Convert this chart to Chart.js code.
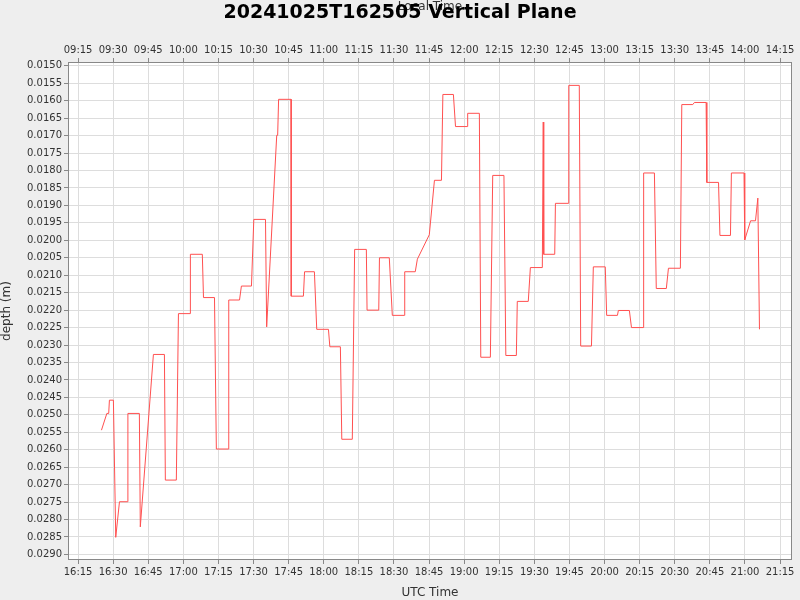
<!DOCTYPE html>
<html><head><meta charset="utf-8">
<script src="https://cdn.jsdelivr.net/npm/chart.js@4"></script>
<style>html,body{margin:0;padding:0;background:#eeeeee}</style>
</head><body>
<canvas id="c" width="800" height="600"></canvas>
<script>
// UTC minutes since midnight
const times = [985,987.3,988.1,988.4,990.1,991.1,992.7,996.2,996.3,1001.2,1001.6,1007.2,1011.9,1012.3,1017,1017.9,1022.9,1023,1028.1,1028.6,1033.3,1034.1,1039.3,1039.4,1044,1044.8,1049.1,1050.1,1055.1,1055.6,1059.9,1060.3,1060.7,1066,1066.1,1071.3,1071.8,1076,1077,1082,1082.6,1087.1,1087.7,1092.2,1093.2,1098.2,1098.5,1103.5,1103.8,1108,1109.3,1114.4,1114.6,1119.1,1120,1125.1,1127.3,1130.3,1130.9,1135.4,1136.3,1141.4,1141.5,1146.5,1147.1,1151.2,1152.2,1157,1157.8,1162.3,1162.7,1167.4,1168.3,1173.4,1173.8,1174.0,1178.7,1179,1184.5,1184.7,1189.2,1189.8,1194.4,1195.2,1200.3,1200.9,1205.5,1205.9,1210.6,1211.5,1216.6,1216.7,1221.3,1222.1,1226.4,1227.3,1232.4,1233,1237.7,1238.4,1243.4,1243.7,1248.7,1249.3,1253.8,1254.2,1259.6,1259.9,1262.4,1264.5,1265.5,1266.2];
const depths = [0.02544,0.02496,0.02496,0.02458,0.02458,0.02851,0.02749,0.02749,0.02496,0.02496,0.02821,0.02327,0.02327,0.02687,0.02687,0.0221,0.0221,0.0204,0.0204,0.02164,0.02164,0.02598,0.02598,0.02171,0.02171,0.02131,0.02131,0.0194,0.0194,0.02248,0.01699,0.01699,0.01596,0.01596,0.0216,0.0216,0.0209,0.0209,0.02255,0.02255,0.02305,0.02305,0.0257,0.0257,0.02026,0.02026,0.0220,0.0220,0.0205,0.0205,0.02215,0.02215,0.0209,0.0209,0.02054,0.01984,0.01828,0.01828,0.01582,0.01582,0.01674,0.01674,0.01636,0.01636,0.02335,0.02335,0.01814,0.01814,0.0233,0.0233,0.02175,0.02175,0.02078,0.02078,0.01661,0.0204,0.0204,0.01894,0.01894,0.01556,0.01556,0.02303,0.02303,0.02076,0.02076,0.02215,0.02215,0.02201,0.02201,0.0225,0.0225,0.01807,0.01807,0.02138,0.02138,0.0208,0.0208,0.01611,0.01611,0.01605,0.01605,0.01834,0.01834,0.01986,0.01986,0.01807,0.01807,0.01999,0.01944,0.01944,0.01879,0.02255];
const localOffsetMin = -420;
const yTickStep = 0.0005;
const xTickStep = 15;

function hhmm(m){m=((Math.round(m)%1440)+1440)%1440;const h=Math.floor(m/60),mm=m%60;return String(h).padStart(2,'0')+':'+String(mm).padStart(2,'0');}
function xTicks(scale){const t=[];for(let v=Math.ceil(scale.min/xTickStep)*xTickStep;v<=scale.max;v+=xTickStep)t.push({value:v});scale.ticks=t;}
function yTicks(scale){const t=[];for(let i=Math.ceil(scale.min/yTickStep-1e-6);i*yTickStep<=scale.max+1e-9;i++)t.push({value:+(i*yTickStep).toFixed(4)});scale.ticks=t;}

const bg={id:'bg',beforeDraw(c){const x=c.ctx,a=c.chartArea;x.save();x.fillStyle='#eeeeee';x.fillRect(0,0,c.width,c.height);x.fillStyle='#fff';x.fillRect(a.left,a.top,a.right-a.left,a.bottom-a.top);x.restore();},
 afterDraw(c){const x=c.ctx,a=c.chartArea;x.save();x.strokeStyle='#888';x.lineWidth=1;x.strokeRect(a.left+0.5,a.top+0.5,a.right-a.left-1,a.bottom-a.top-1);
 x.fillStyle='#000';x.font='bold 19px "DejaVu Sans"';x.textAlign='center';x.textBaseline='middle';x.fillText('20241025T162505 Vertical Plane',400,13);x.restore();}};
const font={family:'"DejaVu Sans"',size:10};
new Chart(document.getElementById('c'),{type:'line',
 data:{datasets:[{data:times.map((t,i)=>({x:t,y:depths[i]})),borderColor:'#ff5050',borderWidth:1,pointRadius:0,tension:0}]},
 options:{animation:false,responsive:false,layout:{padding:{left:0,right:8,top:0,bottom:0}},
  plugins:{legend:{display:false},tooltip:{enabled:false}},
  scales:{
   x:{type:'linear',position:'bottom',min:970.7,max:1280.1,afterBuildTicks:xTicks,
     afterFit(s){s.height=40;},
     ticks:{callback:v=>hhmm(v),font,color:'#333',maxRotation:0,autoSkip:false,padding:2},
     grid:{color:'#dddddd',borderDash:[3,3],tickLength:4,tickColor:'#888'},border:{display:false},
     title:{display:true,text:'UTC Time',font:{family:'"DejaVu Sans"',size:12},color:'#333',padding:0}},
   x2:{type:'linear',position:'top',min:970.7,max:1280.1,afterBuildTicks:xTicks,
     afterFit(s){s.height=62;},
     ticks:{callback:v=>hhmm(v+localOffsetMin),font,color:'#333',maxRotation:0,autoSkip:false,padding:2},
     grid:{drawOnChartArea:false,tickLength:4,tickColor:'#888'},border:{display:false},
     title:{display:true,text:'Local Time',font:{family:'"DejaVu Sans"',size:12},color:'#333',padding:{top:0,bottom:2}}},
   y:{type:'linear',reverse:true,min:0.01489,max:0.02916,afterBuildTicks:yTicks,
     afterFit(s){s.width=68;},
     ticks:{callback:v=>v.toFixed(4),font,color:'#333',autoSkip:false,padding:2},
     grid:{color:'#dddddd',borderDash:[3,3],tickLength:4,tickColor:'#888'},border:{display:false},
     title:{display:true,text:'depth (m)',font:{family:'"DejaVu Sans"',size:12},color:'#333',padding:0}}
  }},plugins:[bg]});
</script></body></html>
